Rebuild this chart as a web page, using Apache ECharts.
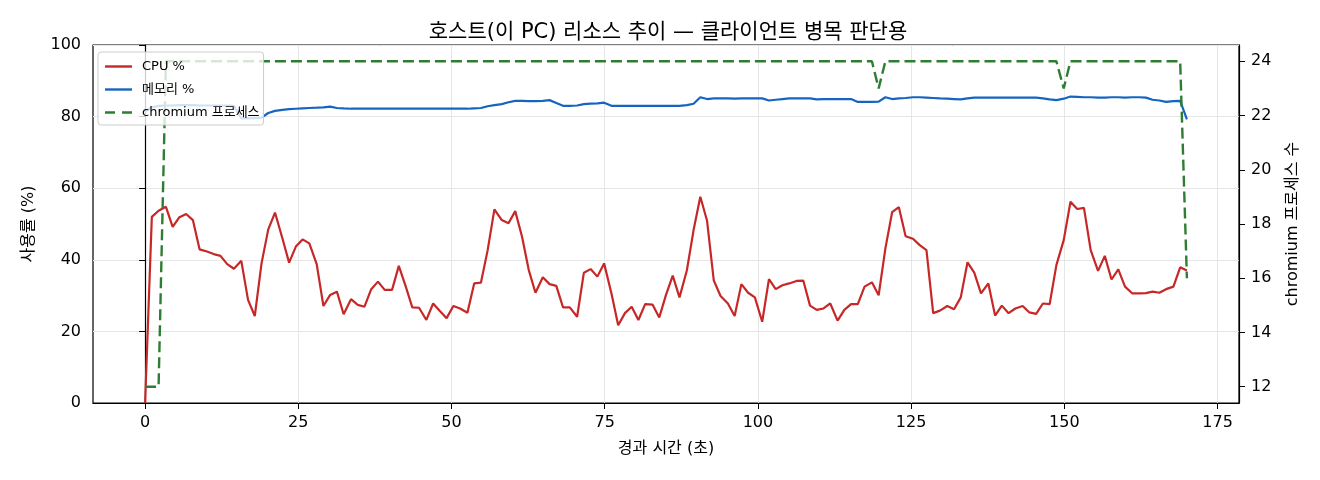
<!DOCTYPE html>
<html>
<head>
<meta charset="utf-8">
<script src="https://cdn.jsdelivr.net/npm/echarts@6/dist/echarts.min.js"></script>
<style>
  html, body { margin: 0; padding: 0; background: #fff; }
  #chart { width: 1320px; height: 480px; }
</style>
</head>
<body>
<div id="chart"></div>
<script>
// 경과 시간 (초)
var times = [
  0, 1.1, 2.2, 3.4, 4.5, 5.6, 6.7, 7.8, 8.9, 10.1, 11.2, 12.3, 13.4, 14.5, 15.7, 16.8, 17.9, 19.0, 20.1, 21.2,
  22.4, 23.5, 24.6, 25.7, 26.8, 28.0, 29.1, 30.2, 31.3, 32.4, 33.6, 34.7, 35.8, 36.9, 38.0, 39.1, 40.3, 41.4, 42.5, 43.6,
  44.7, 45.9, 47.0, 48.1, 49.2, 50.3, 51.4, 52.6, 53.7, 54.8, 55.9, 57.0, 58.2, 59.3, 60.4, 61.5, 62.6, 63.7, 64.9, 66.0,
  67.1, 68.2, 69.3, 70.5, 71.6, 72.7, 73.8, 74.9, 76.1, 77.2, 78.3, 79.4, 80.5, 81.6, 82.8, 83.9, 85.0, 86.1, 87.2, 88.4,
  89.5, 90.6, 91.7, 92.8, 93.9, 95.1, 96.2, 97.3, 98.4, 99.5, 100.7, 101.8, 102.9, 104.0, 105.1, 106.3, 107.4, 108.5, 109.6, 110.7,
  111.8, 113.0, 114.1, 115.2, 116.3, 117.4, 118.6, 119.7, 120.8, 121.9, 123.0, 124.1, 125.3, 126.4, 127.5, 128.6, 129.7, 130.9, 132.0, 133.1,
  134.2, 135.3, 136.4, 137.6, 138.7, 139.8, 140.9, 142.0, 143.2, 144.3, 145.4, 146.5, 147.6, 148.7, 149.9, 151.0, 152.1, 153.2, 154.3, 155.5,
  156.6, 157.7, 158.8, 159.9, 161.1, 162.2, 163.3, 164.4, 165.5, 166.6, 167.8, 168.9, 170.0
];

// CPU %
var cpu = [
  0, 52.0, 53.7, 54.8, 49.2, 51.9, 52.8, 51.1, 42.9, 42.3, 41.6, 41.1, 38.8, 37.5, 39.7, 28.8, 24.3, 39.0, 48.5, 53.2,
  46.0, 39.2, 43.7, 45.7, 44.6, 38.8, 27.1, 30.2, 31.1, 24.8, 29.0, 27.4, 26.9, 31.8, 33.9, 31.6, 31.6, 38.3, 32.7, 26.7,
  26.6, 23.2, 27.8, 25.7, 23.7, 27.1, 26.4, 25.2, 33.4, 33.6, 42.7, 54.1, 51.1, 50.2, 53.6, 46.5, 37.2, 30.8, 35.1, 33.2,
  32.7, 26.7, 26.7, 24.1, 36.4, 37.4, 35.3, 39.0, 30.6, 21.7, 25.1, 26.9, 23.2, 27.6, 27.5, 23.9, 30.2, 35.6, 29.5, 37.0,
  48.3, 57.6, 50.9, 34.2, 29.9, 27.8, 24.3, 33.2, 30.8, 29.5, 22.7, 34.6, 31.8, 32.9, 33.4, 34.1, 34.2, 27.2, 26.0, 26.4,
  27.8, 23.0, 26.0, 27.6, 27.6, 32.5, 33.7, 30.1, 43.2, 53.3, 54.7, 46.6, 45.9, 44.1, 42.7, 25.1, 25.8, 27.1, 26.2, 29.5,
  39.3, 36.4, 30.6, 33.4, 24.4, 27.2, 25.1, 26.4, 27.1, 25.3, 24.9, 27.8, 27.6, 38.5, 45.5, 56.2, 54.2, 54.5, 42.7, 36.9,
  41.1, 34.5, 37.3, 32.5, 30.6, 30.6, 30.7, 31.1, 30.8, 31.8, 32.5, 37.9, 37.0
];

// 메모리 %
var mem = [
  81.4, 82.6, 83.0, 83.1, 83.1, 83.2, 83.2, 83.2, 83.1, 83.1, 83.1, 83.1, 83.1, 83.0, 79.5, 79.5, 79.6, 79.7, 81.0, 81.6,
  81.9, 82.1, 82.2, 82.3, 82.4, 82.5, 82.6, 82.8, 82.4, 82.3, 82.2, 82.2, 82.2, 82.2, 82.2, 82.2, 82.2, 82.2, 82.2, 82.2,
  82.2, 82.2, 82.2, 82.2, 82.2, 82.2, 82.2, 82.2, 82.3, 82.4, 82.9, 83.2, 83.5, 84.0, 84.4, 84.4, 84.3, 84.3, 84.4, 84.6,
  83.8, 83.0, 83.0, 83.1, 83.5, 83.6, 83.7, 83.9, 83.0, 83.0, 83.0, 83.0, 83.0, 83.0, 83.0, 83.0, 83.0, 83.0, 83.0, 83.2,
  83.6, 85.4, 84.9, 85.1, 85.1, 85.1, 85.0, 85.1, 85.1, 85.1, 85.1, 84.5, 84.7, 84.9, 85.1, 85.1, 85.1, 85.1, 84.8, 84.9,
  84.9, 84.9, 84.9, 84.9, 84.1, 84.1, 84.1, 84.2, 85.4, 84.9, 85.1, 85.2, 85.4, 85.4, 85.3, 85.2, 85.1, 85.0, 84.9, 84.8,
  85.1, 85.3, 85.3, 85.3, 85.3, 85.3, 85.3, 85.3, 85.3, 85.3, 85.3, 85.1, 84.8, 84.6, 85.0, 85.6, 85.5, 85.4, 85.4, 85.3,
  85.3, 85.4, 85.4, 85.3, 85.4, 85.4, 85.3, 84.7, 84.5, 84.1, 84.3, 84.4, 79.2
];

// chromium 프로세스 수
var procs = [
  12, 12, 12, 24, 24, 24, 24, 24, 24, 24, 24, 24, 24, 24, 24, 24, 24, 24, 24, 24,
  24, 24, 24, 24, 24, 24, 24, 24, 24, 24, 24, 24, 24, 24, 24, 24, 24, 24, 24, 24,
  24, 24, 24, 24, 24, 24, 24, 24, 24, 24, 24, 24, 24, 24, 24, 24, 24, 24, 24, 24,
  24, 24, 24, 24, 24, 24, 24, 24, 24, 24, 24, 24, 24, 24, 24, 24, 24, 24, 24, 24,
  24, 24, 24, 24, 24, 24, 24, 24, 24, 24, 24, 24, 24, 24, 24, 24, 24, 24, 24, 24,
  24, 24, 24, 24, 24, 24, 24, 23, 24, 24, 24, 24, 24, 24, 24, 24, 24, 24, 24, 24,
  24, 24, 24, 24, 24, 24, 24, 24, 24, 24, 24, 24, 24, 24, 23, 24, 24, 24, 24, 24,
  24, 24, 24, 24, 24, 24, 24, 24, 24, 24, 24, 24, 16
];

var xTicks = [0, 25, 50, 75, 100, 125, 150, 175];
var rightTicks = [12, 14, 16, 18, 20, 22, 24];

function pairs(vals) {
  return vals.map(function (v, i) { return [times[i], v]; });
}

var FONT = 'DejaVu Sans, "Noto Sans CJK KR", sans-serif';
// legend handles: solid bar / two dashes, 27px wide
var SOLID = 'path://M0,0h27v2.4h-27z';
var DASHED = 'path://M0,0h10v2.6h-10z M17,0h10v2.6h-10z';

var myChart = echarts.init(document.getElementById('chart'));
var option = {
  animation: false,
  backgroundColor: '#fff',
  textStyle: { fontFamily: FONT, color: '#000' },
  title: {
    text: '호스트(이 PC) 리소스 추이 — 클라이언트 병목 판단용',
    left: 663,
    top: 17,
    textAlign: 'center',
    textStyle: { fontFamily: FONT, fontSize: 21, fontWeight: 'normal', color: '#000' }
  },
  legend: {
    orient: 'vertical',
    left: 98,
    top: 52,
    padding: [8, 4, 6, 7],
    itemWidth: 27,
    itemHeight: 14,
    itemGap: 10,
    symbolKeepAspect: true,
    backgroundColor: 'rgba(255,255,255,0.8)',
    borderColor: '#cccccc',
    borderWidth: 1,
    borderRadius: 3,
    textStyle: { fontFamily: FONT, fontSize: 13, color: '#000', padding: [0, 0, 0, 5] },
    data: [
      { name: 'CPU %', icon: SOLID },
      { name: '메모리 %', icon: SOLID },
      { name: 'chromium 프로세스', icon: DASHED }
    ]
  },
  grid: {
    left: 93, right: 81, top: 45, bottom: 77,
    show: true, borderColor: '#000', borderWidth: 1.2, backgroundColor: 'transparent'
  },
  xAxis: {
    type: 'value',
    min: -8.5,
    max: 178.5,
    name: '경과 시간 (초)',
    nameLocation: 'middle',
    nameGap: 38,
    nameTextStyle: { fontFamily: FONT, fontSize: 16, color: '#000' },
    axisLine: { show: true, lineStyle: { color: '#000', width: 1.2 } },
    axisTick: { show: true, inside: false, length: 6, customValues: xTicks, lineStyle: { color: '#000' } },
    axisLabel: { customValues: xTicks, margin: 12, fontSize: 16, fontFamily: FONT, color: '#000' },
    splitLine: { show: true, lineStyle: { color: '#e6e6e6', width: 1 } }
  },
  yAxis: [
    {
      type: 'value',
      min: 0,
      max: 100,
      interval: 20,
      name: '사용률 (%)',
      nameLocation: 'middle',
      nameGap: 56,
      nameRotate: 90,
      nameTextStyle: { fontFamily: FONT, fontSize: 16, color: '#000' },
      axisLine: { show: true, lineStyle: { color: '#000', width: 1.2 } },
      axisTick: { show: true, inside: false, length: 6, lineStyle: { color: '#000' } },
      axisLabel: { margin: 12, fontSize: 16, fontFamily: FONT, color: '#000' },
      splitLine: { show: true, lineStyle: { color: '#e6e6e6', width: 1 } }
    },
    {
      type: 'value',
      position: 'right',
      min: 11.4,
      max: 24.6,
      name: 'chromium 프로세스 수',
      nameLocation: 'middle',
      nameGap: 46,
      nameRotate: 90,
      nameTextStyle: { fontFamily: FONT, fontSize: 16, color: '#000' },
      axisLine: { show: true, lineStyle: { color: '#000', width: 1.2 } },
      axisTick: { show: true, inside: false, length: 6, customValues: rightTicks, lineStyle: { color: '#000' } },
      axisLabel: { customValues: rightTicks, margin: 12, fontSize: 16, fontFamily: FONT, color: '#000' },
      splitLine: { show: false }
    }
  ],
  series: [
    {
      name: 'CPU %',
      type: 'line',
      yAxisIndex: 0,
      symbol: 'none',
      data: pairs(cpu),
      color: '#c62828',
      lineStyle: { color: '#c62828', width: 2.2 }
    },
    {
      name: '메모리 %',
      type: 'line',
      yAxisIndex: 0,
      symbol: 'none',
      data: pairs(mem),
      color: '#1565c0',
      lineStyle: { color: '#1565c0', width: 2.2 }
    },
    {
      name: 'chromium 프로세스',
      type: 'line',
      yAxisIndex: 1,
      symbol: 'none',
      data: pairs(procs),
      color: '#2e7d32',
      lineStyle: { color: '#2e7d32', width: 2.4, type: [11, 5] }
    }
  ]
};
myChart.setOption(option);
</script>
</body>
</html>
